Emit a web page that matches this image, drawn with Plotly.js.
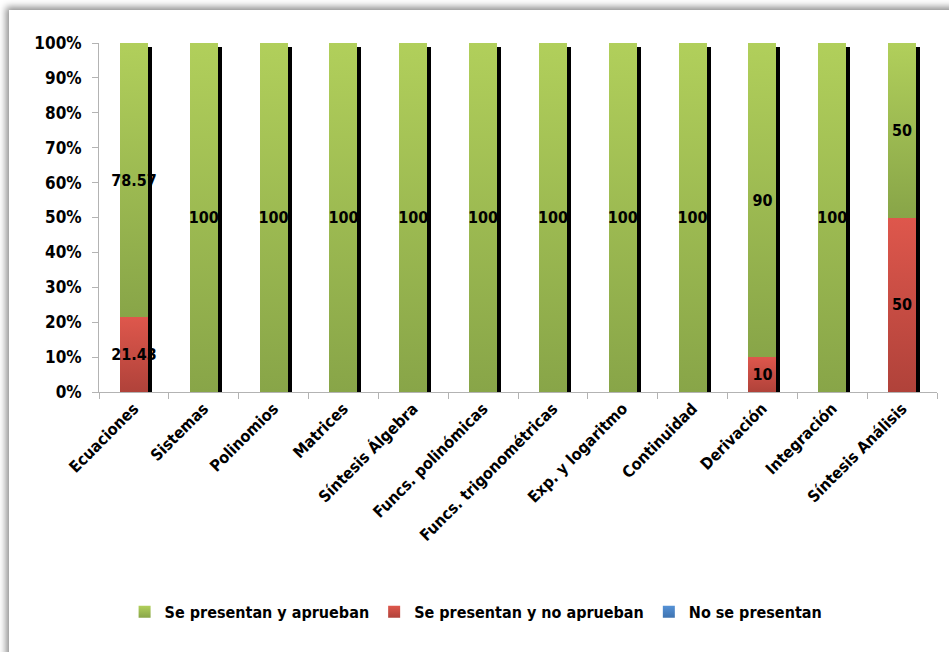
<!DOCTYPE html>
<html>
<head>
<meta charset="utf-8">
<script src="https://cdn.plot.ly/plotly-3.0.1.min.js"></script>
<style>
  html, body { margin: 0; padding: 0; background: #ffffff; overflow: hidden; width: 949px; height: 652px; }
  #frame { position: absolute; left: 9px; top: 10px; width: 1000px; height: 700px; background: #fff;
           box-shadow: -3px -3px 7px rgba(0,0,0,0.45); }
  #chart { position: absolute; left: 0; top: 0; width: 949px; height: 652px; }
</style>
</head>
<body>
<div id="frame"></div>
<div id="chart"></div>
<script>
const categories = ['Ecuaciones', 'Sistemas', 'Polinomios', 'Matrices', 'Síntesis Álgebra',
  'Funcs. polinómicas', 'Funcs. trigonométricas', 'Exp. y logaritmo', 'Continuidad',
  'Derivación', 'Integración', 'Síntesis Análisis'];
const seriesNames = ['Se presentan y aprueban', 'Se presentan y no aprueban', 'No se presentan'];
const aprueban    = [78.57, 100, 100, 100, 100, 100, 100, 100, 100, 90, 100, 50];
const noAprueban  = [21.43, 0, 0, 0, 0, 0, 0, 0, 0, 10, 0, 50];
const noPresentan = [0, 0, 0, 0, 0, 0, 0, 0, 0, 0, 0, 0];
const yTicks = [0, 10, 20, 30, 40, 50, 60, 70, 80, 90, 100];

const FONT = 'Liberation Sans Narrow, DejaVu Sans Condensed, Arial Narrow, sans-serif';
const FS = 16;
const GREEN = '#9bbb59', RED = '#c0504d', BLUE = '#4f81bd';
const labels = arr => arr.map(v => v === 0 ? '' : String(v));
const totals = categories.map((_, i) => aprueban[i] + noAprueban[i] + noPresentan[i]);

const shift = 4 / (838 / categories.length);

const commonBar = {
  type: 'bar', xaxis: 'x2', yaxis: 'y2',
  textposition: 'inside', insidetextanchor: 'middle', textangle: 0, constraintext: 'none',
  textfont: { family: FONT, size: FS, color: '#000', weight: 'bold' },
  hoverinfo: 'x+y'
};

const traces = [
  { type: 'bar', x: categories, y: totals, xaxis: 'x', yaxis: 'y', marker: { color: '#000' },
    showlegend: false, hoverinfo: 'skip' },
  Object.assign({}, commonBar, { name: seriesNames[1], x: categories, y: noAprueban, text: labels(noAprueban),
    marker: { color: RED }, legendrank: 2 }),
  Object.assign({}, commonBar, { name: seriesNames[0], x: categories, y: aprueban, text: labels(aprueban),
    marker: { color: GREEN }, legendrank: 1 }),
  Object.assign({}, commonBar, { name: seriesNames[2], x: categories, y: noPresentan, text: labels(noPresentan),
    marker: { color: BLUE }, legendrank: 3 })
];

const layout = {
  width: 949, height: 652,
  margin: { l: 99, r: 12, t: 43, b: 260 },
  paper_bgcolor: 'rgba(0,0,0,0)', plot_bgcolor: 'rgba(0,0,0,0)',
  barmode: 'stack', bargap: 0.6,
  font: { family: FONT, size: FS, color: '#000', weight: 'bold' },
  showlegend: true,
  legend: { orientation: 'h', x: 0.45, xanchor: 'center', y: -0.63, yanchor: 'middle',
            traceorder: 'normal',
            font: { family: FONT, size: FS, color: '#000', weight: 'bold' },
            itemwidth: 30, tracegroupgap: 0 },
  xaxis: { visible: false, type: 'category', range: [-0.5 - shift, categories.length - 0.5 - shift], fixedrange: true },
  yaxis: { visible: false, range: [0, 100 * 349 / 345], fixedrange: true },
  xaxis2: { overlaying: 'x', anchor: 'y2', side: 'bottom', type: 'category',
            range: [-0.5, categories.length - 0.5],
            showline: true, linecolor: '#b3b3b3', linewidth: 1,
            ticks: 'outside', tickson: 'boundaries', ticklen: 6, tickcolor: '#b3b3b3',
            tickangle: -45, showgrid: false, zeroline: false,
            tickfont: { family: FONT, size: FS, color: '#000', weight: 'bold' } },
  yaxis2: { overlaying: 'y', anchor: 'x2', side: 'left', range: [0, 100],
            tickvals: yTicks, ticktext: yTicks.map(v => v + '%'),
            showline: true, linecolor: '#b3b3b3', linewidth: 1,
            ticks: 'outside', ticklen: 6, tickcolor: '#b3b3b3', ticklabelstandoff: 7,
            showgrid: false, zeroline: false,
            tickfont: { family: FONT, size: 17, color: '#000', weight: 'bold' } }
};

Plotly.newPlot('chart', traces, layout, { displayModeBar: false, staticPlot: true }).then(gd => {
  const svg = gd.querySelector('svg.main-svg');
  const NS = 'http://www.w3.org/2000/svg';
  const defs = document.createElementNS(NS, 'defs');
  svg.insertBefore(defs, svg.firstChild);
  const grads = {
    'rgb(155, 187, 89)': ['g_green', '#b1cf5b', '#88a548'],
    'rgb(192, 80, 77)':  ['g_red',   '#de574c', '#b0423a'],
    'rgb(79, 129, 189)': ['g_blue',  '#5592d6', '#3f73b0']
  };
  Object.values(grads).forEach(([id, c1, c2]) => {
    const lg = document.createElementNS(NS, 'linearGradient');
    lg.setAttribute('id', id);
    lg.setAttribute('x1', '0'); lg.setAttribute('y1', '0');
    lg.setAttribute('x2', '0'); lg.setAttribute('y2', '1');
    [[0, c1], [1, c2]].forEach(([o, c]) => {
      const s = document.createElementNS(NS, 'stop');
      s.setAttribute('offset', o); s.setAttribute('stop-color', c);
      lg.appendChild(s);
    });
    defs.appendChild(lg);
  });
  gd.querySelectorAll('.trace.bars path, .legendpoints path').forEach(p => {
    const f = p.style.fill;
    if (grads[f]) p.style.fill = 'url(#' + grads[f][0] + ')';
  });
});
</script>
</body>
</html>
